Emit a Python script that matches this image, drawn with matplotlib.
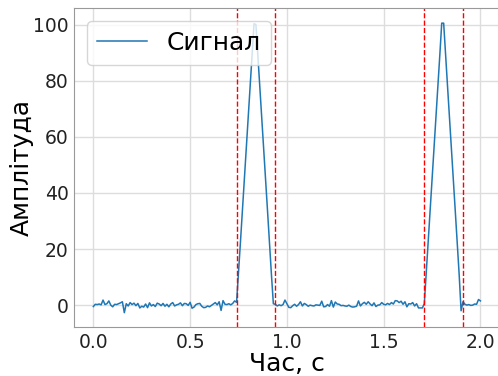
import numpy as np
import matplotlib.pyplot as plt

# Часова сітка (200 інтервалів по 0.01 с)
t = np.linspace(0.0, 2.0, 201)

# Шум до першого імпульсу, 0.00 - 0.73 с
noise_a = [-0.5, 0.3, 0.2, 0.4, 0.1, 1.8, 0.2, 0.5, 1.5, 0.0,
           -0.6, 0.3, 0.2, 0.5, 0.8, 1.2, -2.7, 0.5, -0.3, 0.9,
           0.2, 0.7, -0.2, 0.6, -1.0, -0.4, -0.7, 0.4, -0.9, 0.8,
           -0.3, 0.2, -0.5, 0.7, 0.4, -0.2, 0.6, -0.4, 0.3, -0.6,
           0.4, 0.9, -0.3, 0.1, 0.3, 0.8, -0.2, 0.6, 0.5, -0.1,
           1.0, -1.1, -0.7, 0.2, 0.5, 0.6, -0.4, -0.9, -0.8, -0.3,
           -0.6, -0.1, 0.4, 0.9, 0.1, 1.2, -1.9, 1.6, 0.3, 0.2,
           0.5, 0.1, 0.6, 1.5]
# Перший імпульс, 0.74 - 0.93 с
pulse_1 = [1.0, 11.5, 22.5, 33.5, 44.5, 56.0, 67.0, 78.0, 89.0, 100.3,
           100.0, 89.0, 78.0, 67.0, 56.0, 44.5, 33.5, 22.0, 11.0, 0.5]
# Шум між імпульсами, 0.94 - 1.70 с
noise_b = [0.3, -0.3, 0.1, -0.2, 0.2, 1.8,
           0.5, -0.8, -0.9, -0.2, 0.3, -0.4, 0.2, 1.2, -0.3, 0.6,
           0.2, -0.4, 0.0, -0.2, -0.3, 0.1, 0.0, -0.1, 1.4, -0.6,
           -0.5, 0.2, -0.4, 1.6, -0.7, 1.1, 0.4, 0.3, -0.2, -0.1,
           -0.3, -0.4, 0.0, -0.5, -0.7, -0.6, -0.4, 1.5, -0.3, 0.5,
           1.0, 0.3, 1.2, 0.4, -0.2, 0.8, -0.5, 0.0, 0.1, 0.9,
           0.3, 0.1, 0.6, 0.2, 0.9, 0.4, 1.6, 1.5, 0.9, 1.4,
           0.3, 1.2, -0.6, 0.5, 0.4, 0.9, -0.3, 0.5, -1.0, -1.0,
           -1.0]
# Другий імпульс, 1.71 - 1.90 с
pulse_2 = [0.5, 11.5, 22.5, 33.5, 44.5, 56.0, 67.0, 78.0, 89.0, 100.5,
           100.5, 89.0, 78.0, 67.0, 56.0, 44.5, 33.5, 22.0, 11.0, -2.0]
# Шум після імпульсу, 1.91 - 2.00 с
noise_c = [1.2, 0.3, 0.0, 0.2, -0.1, 0.0, 0.4, 0.3, 2.0, 1.5]

signal = np.array(noise_a + pulse_1 + noise_b + pulse_2 + noise_c)

# Межі виявлених імпульсів
bounds = [0.74, 0.94, 1.71, 1.91]

fig = plt.figure(figsize=(4.98, 3.76), dpi=100)
ax = fig.add_axes([0.1486, 0.1303, 0.855, 0.8484])

ax.plot(t, signal, color='#1f77b4', lw=1.1, label='Сигнал')
for b in bounds:
    ax.axvline(b, color='red', ls='--', lw=1.0)

ax.set_xlim(-0.1, 2.1)
ax.set_ylim(-7.8, 105.9)
ax.set_xticks([0.0, 0.5, 1.0, 1.5, 2.0])
ax.set_yticks([0, 20, 40, 60, 80, 100])
ax.tick_params(labelsize=13.5, length=0, pad=4, labelcolor='#222222')
ax.set_xlabel('Час, с', fontsize=18, labelpad=0)
ax.set_ylabel('Амплітуда', fontsize=18, labelpad=-1)
ax.grid(True, color='#dddddd', lw=1.0)
ax.set_axisbelow(True)
for s in ax.spines.values():
    s.set_color('#999999')

ax.legend(loc='upper left', fontsize=18)

plt.savefig('out.png', dpi=100)
